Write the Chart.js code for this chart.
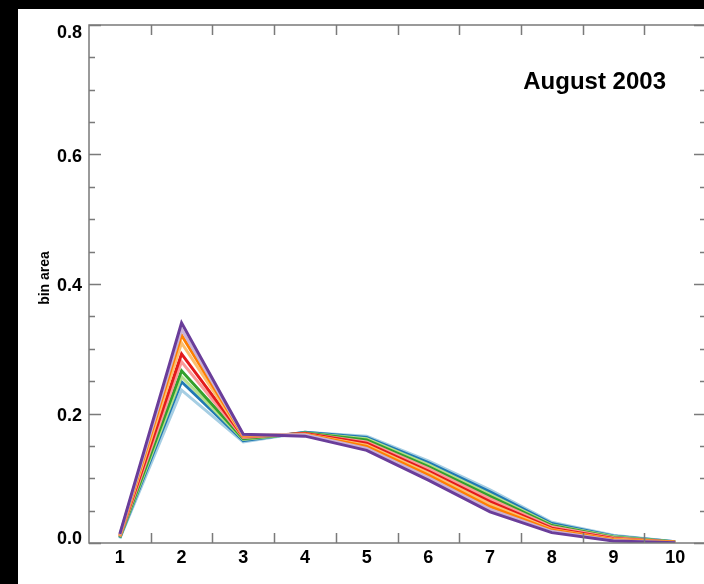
<!DOCTYPE html>
<html>
<head>
<meta charset="utf-8">
<script src="https://cdn.jsdelivr.net/npm/chart.js@4/dist/chart.umd.min.js"></script>
<style>
  html, body { margin: 0; padding: 0; background: #000; width: 704px; height: 584px; overflow: hidden; }
  #wrap { position: absolute; left: 18px; top: 9px; width: 700px; height: 575px; background: #fff; }
  canvas { display: block; }
</style>
</head>
<body>
<div id="wrap"><canvas id="c" width="700" height="575"></canvas></div>
<script>
// Categories (bins)
const categories = ['1','2','3','4','5','6','7','8','9','10'];
// Y tick values
const yMajorTicks = [0.0, 0.2, 0.4, 0.6, 0.8];
// Series (Paired palette order, from lowest peak to highest peak)
const sLightBlue   = [0.007, 0.236, 0.156, 0.171, 0.165, 0.127, 0.082, 0.032, 0.012, 0.002];
const sBlue        = [0.008, 0.249, 0.158, 0.171, 0.163, 0.124, 0.079, 0.030, 0.011, 0.002];
const sLightGreen  = [0.009, 0.257, 0.160, 0.170, 0.161, 0.121, 0.075, 0.028, 0.010, 0.0015];
const sGreen       = [0.009, 0.266, 0.161, 0.170, 0.159, 0.118, 0.072, 0.027, 0.009, 0.0015];
const sPink        = [0.010, 0.280, 0.163, 0.169, 0.156, 0.115, 0.068, 0.025, 0.008, 0.001];
const sRed         = [0.011, 0.292, 0.164, 0.169, 0.154, 0.111, 0.064, 0.023, 0.007, 0.001];
const sLightOrange = [0.011, 0.309, 0.165, 0.168, 0.151, 0.108, 0.060, 0.021, 0.006, 0.001];
const sOrange      = [0.012, 0.321, 0.166, 0.168, 0.149, 0.105, 0.056, 0.020, 0.005, 0.001];
const sLightPurple = [0.013, 0.330, 0.167, 0.167, 0.146, 0.101, 0.052, 0.018, 0.004, 0.0005];
const sPurple      = [0.014, 0.340, 0.168, 0.165, 0.143, 0.097, 0.048, 0.016, 0.003, 0.0005];

const seriesList = [
  {name: 's1',  data: sLightBlue,   color: '#a6cee3'},
  {name: 's2',  data: sBlue,        color: '#1f78b4'},
  {name: 's3',  data: sLightGreen,  color: '#b2df8a'},
  {name: 's4',  data: sGreen,       color: '#33a02c'},
  {name: 's5',  data: sPink,        color: '#fb9a99'},
  {name: 's6',  data: sRed,         color: '#e31a1c'},
  {name: 's7',  data: sLightOrange, color: '#fdbf6f'},
  {name: 's8',  data: sOrange,      color: '#ff7f00'},
  {name: 's9',  data: sLightPurple, color: '#cab2d6'},
  {name: 's10', data: sPurple,      color: '#6a3d9a'}
];

const FONT = '"Liberation Sans", Arial, Helvetica, sans-serif';

const framePlugin = {
  id: 'framePlugin',
  afterDatasetsDraw(chart) {
    const ctx = chart.ctx;
    const a = chart.chartArea;
    const xs = chart.scales.x, ys = chart.scales.y;
    ctx.save();
    ctx.strokeStyle = '#7a7a7a';
    ctx.lineWidth = 1.5;
    ctx.strokeRect(a.left, a.top, a.right - a.left, a.bottom - a.top);
    ctx.beginPath();
    // x ticks between categories
    for (let i = 0; i < categories.length - 1; i++) {
      const px = Math.round((xs.getPixelForValue(i) + xs.getPixelForValue(i + 1)) / 2) + 0.5;
      ctx.moveTo(px, a.bottom); ctx.lineTo(px, a.bottom - 10);
      ctx.moveTo(px, a.top); ctx.lineTo(px, a.top + 10);
    }
    // y ticks every 0.05, majors every 0.2
    for (let k = 0; k <= 16; k++) {
      const v = k * 0.05;
      const py = Math.round(ys.getPixelForValue(v)) + 0.5;
      const len = (k % 4 === 0) ? 12 : 6;
      ctx.moveTo(a.left, py); ctx.lineTo(a.left + len, py);
      ctx.moveTo(a.right, py); ctx.lineTo(a.right - len, py);
    }
    ctx.stroke();
    // y tick labels (kept inside the axis range at both ends)
    ctx.fillStyle = '#000';
    ctx.font = 'bold 18px ' + FONT;
    ctx.textAlign = 'right';
    ctx.textBaseline = 'alphabetic';
    yMajorTicks.forEach((v, i) => {
      const py = ys.getPixelForValue(v);
      let dy = 7;
      if (i === yMajorTicks.length - 1) dy = 13;
      else if (i === 0) dy = 1;
      ctx.fillText(v.toFixed(1), a.left - 7, py + dy);
    });
    // annotation text
    ctx.font = 'bold 24px ' + FONT;
    ctx.textAlign = 'right';
    ctx.fillText('August 2003', a.right - 40, a.top + 64);
    // y axis title
    ctx.save();
    ctx.translate(a.left - 44, (a.top + a.bottom) / 2 - 6);
    ctx.rotate(-Math.PI / 2);
    ctx.textAlign = 'center';
    ctx.textBaseline = 'middle';
    ctx.font = 'bold 14px ' + FONT;
    ctx.fillText('bin area', 0, 0);
    ctx.restore();
    ctx.restore();
  }
};

new Chart(document.getElementById('c'), {
  type: 'line',
  data: {
    labels: categories,
    datasets: seriesList.slice().reverse().map(s => ({
      label: s.name,
      data: s.data,
      borderColor: s.color,
      backgroundColor: s.color,
      borderWidth: 3,
      pointRadius: 0,
      tension: 0,
      fill: false
    }))
  },
  options: {
    responsive: false,
    animation: false,
    layout: { padding: { top: 16, right: 12, bottom: 0, left: 0 } },
    plugins: { legend: { display: false }, tooltip: { enabled: false } },
    scales: {
      x: {
        type: 'category',
        offset: true,
        grid: { display: false, drawTicks: false, offset: true },
        border: { display: false },
        ticks: { color: '#000', font: { family: FONT, size: 18, weight: 'bold' }, padding: 4, maxRotation: 0, autoSkip: false },
        afterFit(scale) { scale.height = 41; }
      },
      y: {
        min: 0, max: 0.8,
        grid: { display: false, drawTicks: false },
        border: { display: false },
        afterBuildTicks(scale) { scale.ticks = yMajorTicks.map(v => ({ value: v })); },
        ticks: { display: false },
        afterFit(scale) { scale.width = 71; }
      }
    }
  },
  plugins: [framePlugin]
});
</script>
</body>
</html>
